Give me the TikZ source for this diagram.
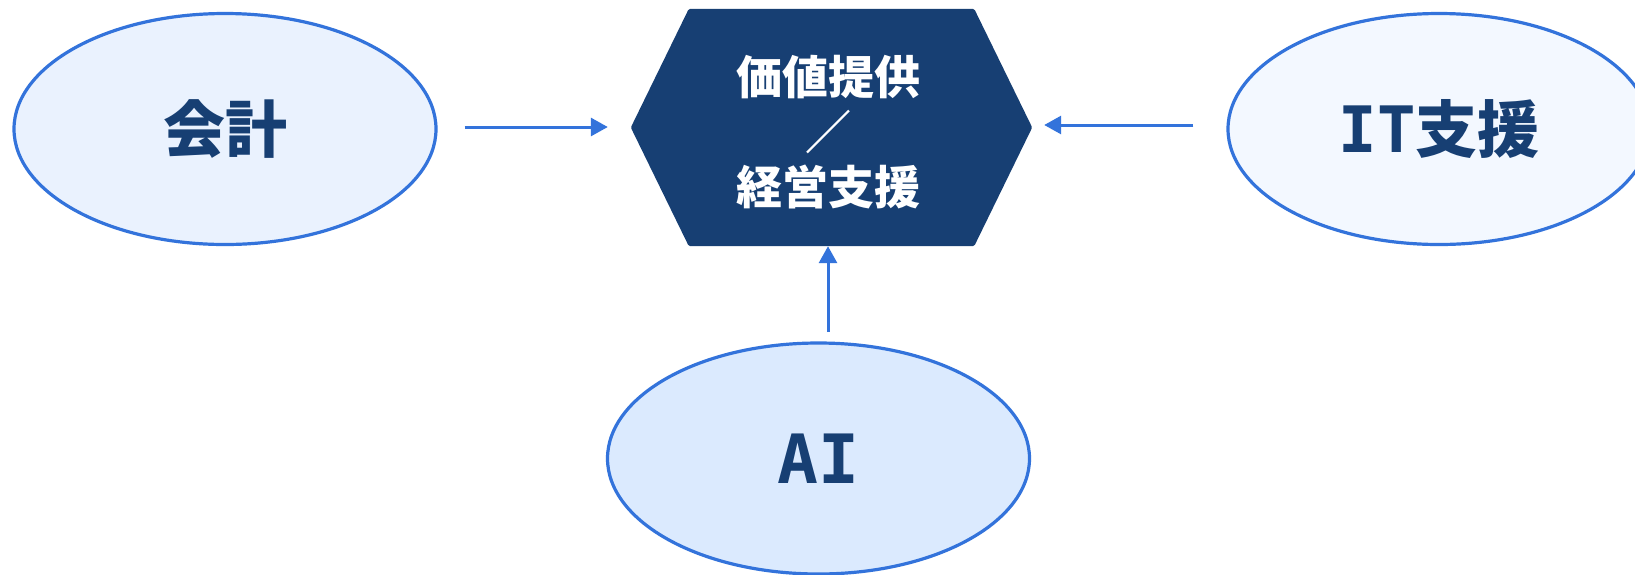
\documentclass[tikz,border=0pt]{standalone}
\usepackage{fontspec}
\newfontfamily\jp{Noto Sans CJK JP}
\newfontfamily\monob{DejaVu Sans Mono}
\usetikzlibrary{shapes.geometric,arrows.meta,calc}
\definecolor{navy}{HTML}{173F73}
\definecolor{edgeblue}{HTML}{3373DB}
\definecolor{fillA}{HTML}{EAF2FE}
\definecolor{fillB}{HTML}{F3F8FF}
\definecolor{fillC}{HTML}{DBEAFE}
\tikzset{
  oval/.style={ellipse, draw=edgeblue, line width=3.2pt, minimum width=422pt, minimum height=231pt, inner sep=0pt, text=navy, font=\jp\bfseries\fontsize{62pt}{70pt}\selectfont},
  conn/.style={draw=edgeblue, line width=3pt, -{Triangle[length=17pt,width=18pt]}},
}
\begin{document}
\begin{tikzpicture}[x=1pt,y=-1pt]
\useasboundingbox (0,0) rectangle (1635,574);
\node[oval, fill=fillA] (kaikei) at (225,129) {会計};
\node[oval, fill=fillB] (it) at (1439,129) {{\monob\bfseries\fontsize{64pt}{70pt}\selectfont IT}支援};
\node[oval, fill=fillC] (ai) at (818.5,458.5) {{\monob\bfseries\fontsize{68pt}{70pt}\selectfont AI}};
\node[rectangle, minimum width=401pt, minimum height=237pt, inner sep=0pt] (hub) at (831.5,127.5) {};
\fill[navy, rounded corners=1.5pt] (hub.west) -- ($(hub.north west)+(58,0)$) -- ($(hub.north east)+(-58,0)$) -- (hub.east) -- ($(hub.south east)+(-58,0)$) -- ($(hub.south west)+(58,0)$) -- cycle;
\node[text=white, align=center, font=\jp\bfseries\fontsize{46pt}{55pt}\selectfont] (hubtext) at (828,132) {価値提供\\／\\経営支援};
\draw[conn, shorten <=27pt, shorten >=23pt] (kaikei.east |- 0,127) -- (hub.west |- 0,127);
\draw[conn, shorten <=33pt, shorten >=12pt] (it.west |- 0,125) -- (hub.east |- 0,125);
\coordinate (a3s) at (828,332);
\draw[conn] (a3s) -- (a3s |- hub.south);
\end{tikzpicture}
\end{document}
